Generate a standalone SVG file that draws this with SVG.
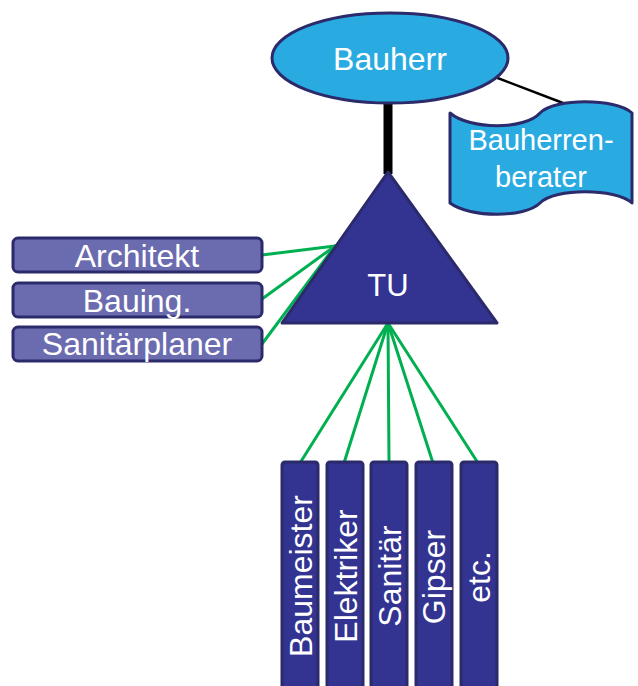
<svg xmlns="http://www.w3.org/2000/svg" width="638" height="686" viewBox="0 0 638 686">
<style>
text{font-family:"Liberation Sans",Arial,sans-serif;fill:#ffffff;text-anchor:middle}
.edge{stroke:#2B2A6B;stroke-width:3;stroke-linejoin:round}
.green{stroke:#00B050;stroke-width:3;fill:none;stroke-linecap:round}
.planer{fill:#6B6BB0}
.bar{fill:#333391}
</style>
<rect width="638" height="686" fill="#ffffff"/>
<g id="connectors">
<line x1="388" y1="100" x2="388" y2="174" stroke="#000" stroke-width="9"/>
<line x1="495" y1="77" x2="563" y2="103" stroke="#000" stroke-width="2.5"/>
<line class="green" x1="262" y1="255" x2="335" y2="246"/>
<line class="green" x1="262" y1="299" x2="335" y2="246"/>
<line class="green" x1="262" y1="344" x2="335" y2="246"/>
<line class="green" x1="388" y1="323" x2="300" y2="463"/>
<line class="green" x1="388" y1="323" x2="344" y2="463"/>
<line class="green" x1="388" y1="323" x2="389" y2="463"/>
<line class="green" x1="388" y1="323" x2="433" y2="463"/>
<line class="green" x1="388" y1="323" x2="478" y2="463"/>
</g>
<g id="bauherr">
<ellipse class="edge" cx="390" cy="58" rx="118" ry="45" fill="#29ABE2"/>
<text x="390" y="70" font-size="32">Bauherr</text>
</g>
<g id="bauherrenberater">
<path class="edge" fill="#29ABE2" d="M450 113 C470 130 525 130 540 113 C555 98 615 98 632 113 L632 203 C615 188 555 188 540 203 C525 218 470 218 450 203 Z"/>
<text x="541" y="150" font-size="29">Bauherren-</text>
<text x="541" y="187" font-size="29">berater</text>
</g>
<g id="tu">
<polygon class="edge" points="388,172 497,323 282,323" fill="#333391"/>
<text x="388" y="296" font-size="31">TU</text>
</g>
<g id="architekt">
<rect class="edge planer" x="13" y="238" width="249" height="34" rx="5"/>
<text x="137" y="267" font-size="32">Architekt</text>
</g>
<g id="bauing">
<rect class="edge planer" x="13" y="283" width="249" height="34" rx="5"/>
<text x="137" y="312" font-size="32">Bauing.</text>
</g>
<g id="sanitaerplaner">
<rect class="edge planer" x="13" y="327" width="249" height="34" rx="5"/>
<text x="137" y="355" font-size="32">Sanitärplaner</text>
</g>
<g id="baumeister">
<rect class="edge bar" x="282" y="462" width="36" height="240" rx="3"/>
<text transform="translate(312,576) rotate(-90)" font-size="32">Baumeister</text>
</g>
<g id="elektriker">
<rect class="edge bar" x="327" y="462" width="36" height="240" rx="3"/>
<text transform="translate(357,576) rotate(-90)" font-size="32">Elektriker</text>
</g>
<g id="sanitaer">
<rect class="edge bar" x="371" y="462" width="36" height="240" rx="3"/>
<text transform="translate(401,576) rotate(-90)" font-size="32">Sanitär</text>
</g>
<g id="gipser">
<rect class="edge bar" x="416" y="462" width="36" height="240" rx="3"/>
<text transform="translate(445,577) rotate(-90)" font-size="32">Gipser</text>
</g>
<g id="etc">
<rect class="edge bar" x="461" y="462" width="36" height="240" rx="3"/>
<text transform="translate(490,577) rotate(-90)" font-size="32">etc.</text>
</g>
</svg>
